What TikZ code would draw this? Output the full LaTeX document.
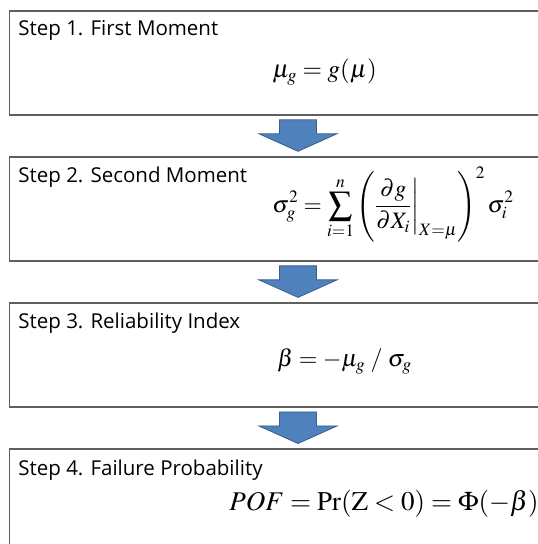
\documentclass[tikz,border=0pt]{standalone}
\usepackage{amsmath}
\usepackage{mathptmx}
\usepackage[no-math]{fontspec}
\newfontfamily\stepfont{Open Sans}
\usetikzlibrary{positioning,calc}
\definecolor{boxRule}{RGB}{95, 95, 95}
\definecolor{arrowFill}{RGB}{79, 129, 189}
\definecolor{arrowRule}{RGB}{56, 93, 138}

\begin{document}
\begin{tikzpicture}[
        x=1pt, y=1pt,
        stepbox/.style={draw=boxRule, line width=1.6pt, minimum width=577pt, minimum height=104pt, inner sep=0pt},
        steplabel/.style={anchor=base west, font=\stepfont\fontsize{20.5pt}{22pt}\selectfont, inner sep=0pt},
        formula/.style={anchor=west, inner sep=0pt},
        blockarr/.style={fill=arrowFill, draw=arrowRule, line width=0.8pt, line join=miter},
        node distance=40.5pt
    ]
        \useasboundingbox (0,0) rectangle (538,544);

        % Step 1
        \node[stepbox] (s1) at (298, 481) {};
        \node[steplabel] (t1) at ($(s1.north west)+(9.5,-25)$) {Step 1. First Moment};
        \node[formula, font=\fontsize{25pt}{29pt}\selectfont] (f1) at ($(s1.west)+(263.5,-9)$) {$\mu_g = g(\mu)$};

        % Step 2
        \node[stepbox, below=of s1] (s2) {};
        \node[steplabel] (t2) at ($(s2.north west)+(9.5,-26)$) {Step 2. Second Moment};
        \node[formula, font=\fontsize{23.5pt}{27pt}\selectfont] (f2) at ($(s2.west)+(263.5,5)$) {$\displaystyle \sigma_g^2 = \sum_{i=1}^{n} \left( \frac{\partial g}{\partial X_i} \bigg|_{X=\mu} \right)^{2} \sigma_i^2$};

        % Step 3
        \node[stepbox, below=of s2] (s3) {};
        \node[steplabel] (t3) at ($(s3.north west)+(9.5,-26)$) {Step 3. Reliability Index};
        \node[formula, font=\fontsize{24pt}{28pt}\selectfont] (f3) at ($(s3.west)+(268.5,-6)$) {$\beta = -\mu_g \;/\; \sigma_g$};

        % Step 4
        \node[stepbox, below=of s3] (s4) {};
        \node[steplabel] (t4) at ($(s4.north west)+(9.5,-27)$) {Step 4. Failure Probability};
        \node[formula, font=\fontsize{27pt}{31pt}\selectfont] (f4) at ($(s4.west)+(220.5,-2)$) {$POF = \mathrm{Pr}(\mathrm{Z} < 0) = \Phi(-\beta)$};

        % block arrows
        \foreach \a/\b in {s1/s2, s2/s3, s3/s4}
            \draw[blockarr] ($(\a.south)+(-18.5,-4)$) -- ($(\a.south)+(18.5,-4)$)
                -- ($(\a.south)+(18.5,-18)$) -- ($(\a.south)+(39,-18)$)
                -- ($(\b.north)+(0,5)$)
                -- ($(\a.south)+(-39,-18)$) -- ($(\a.south)+(-18.5,-18)$) -- cycle;
    \end{tikzpicture}
\end{document}
